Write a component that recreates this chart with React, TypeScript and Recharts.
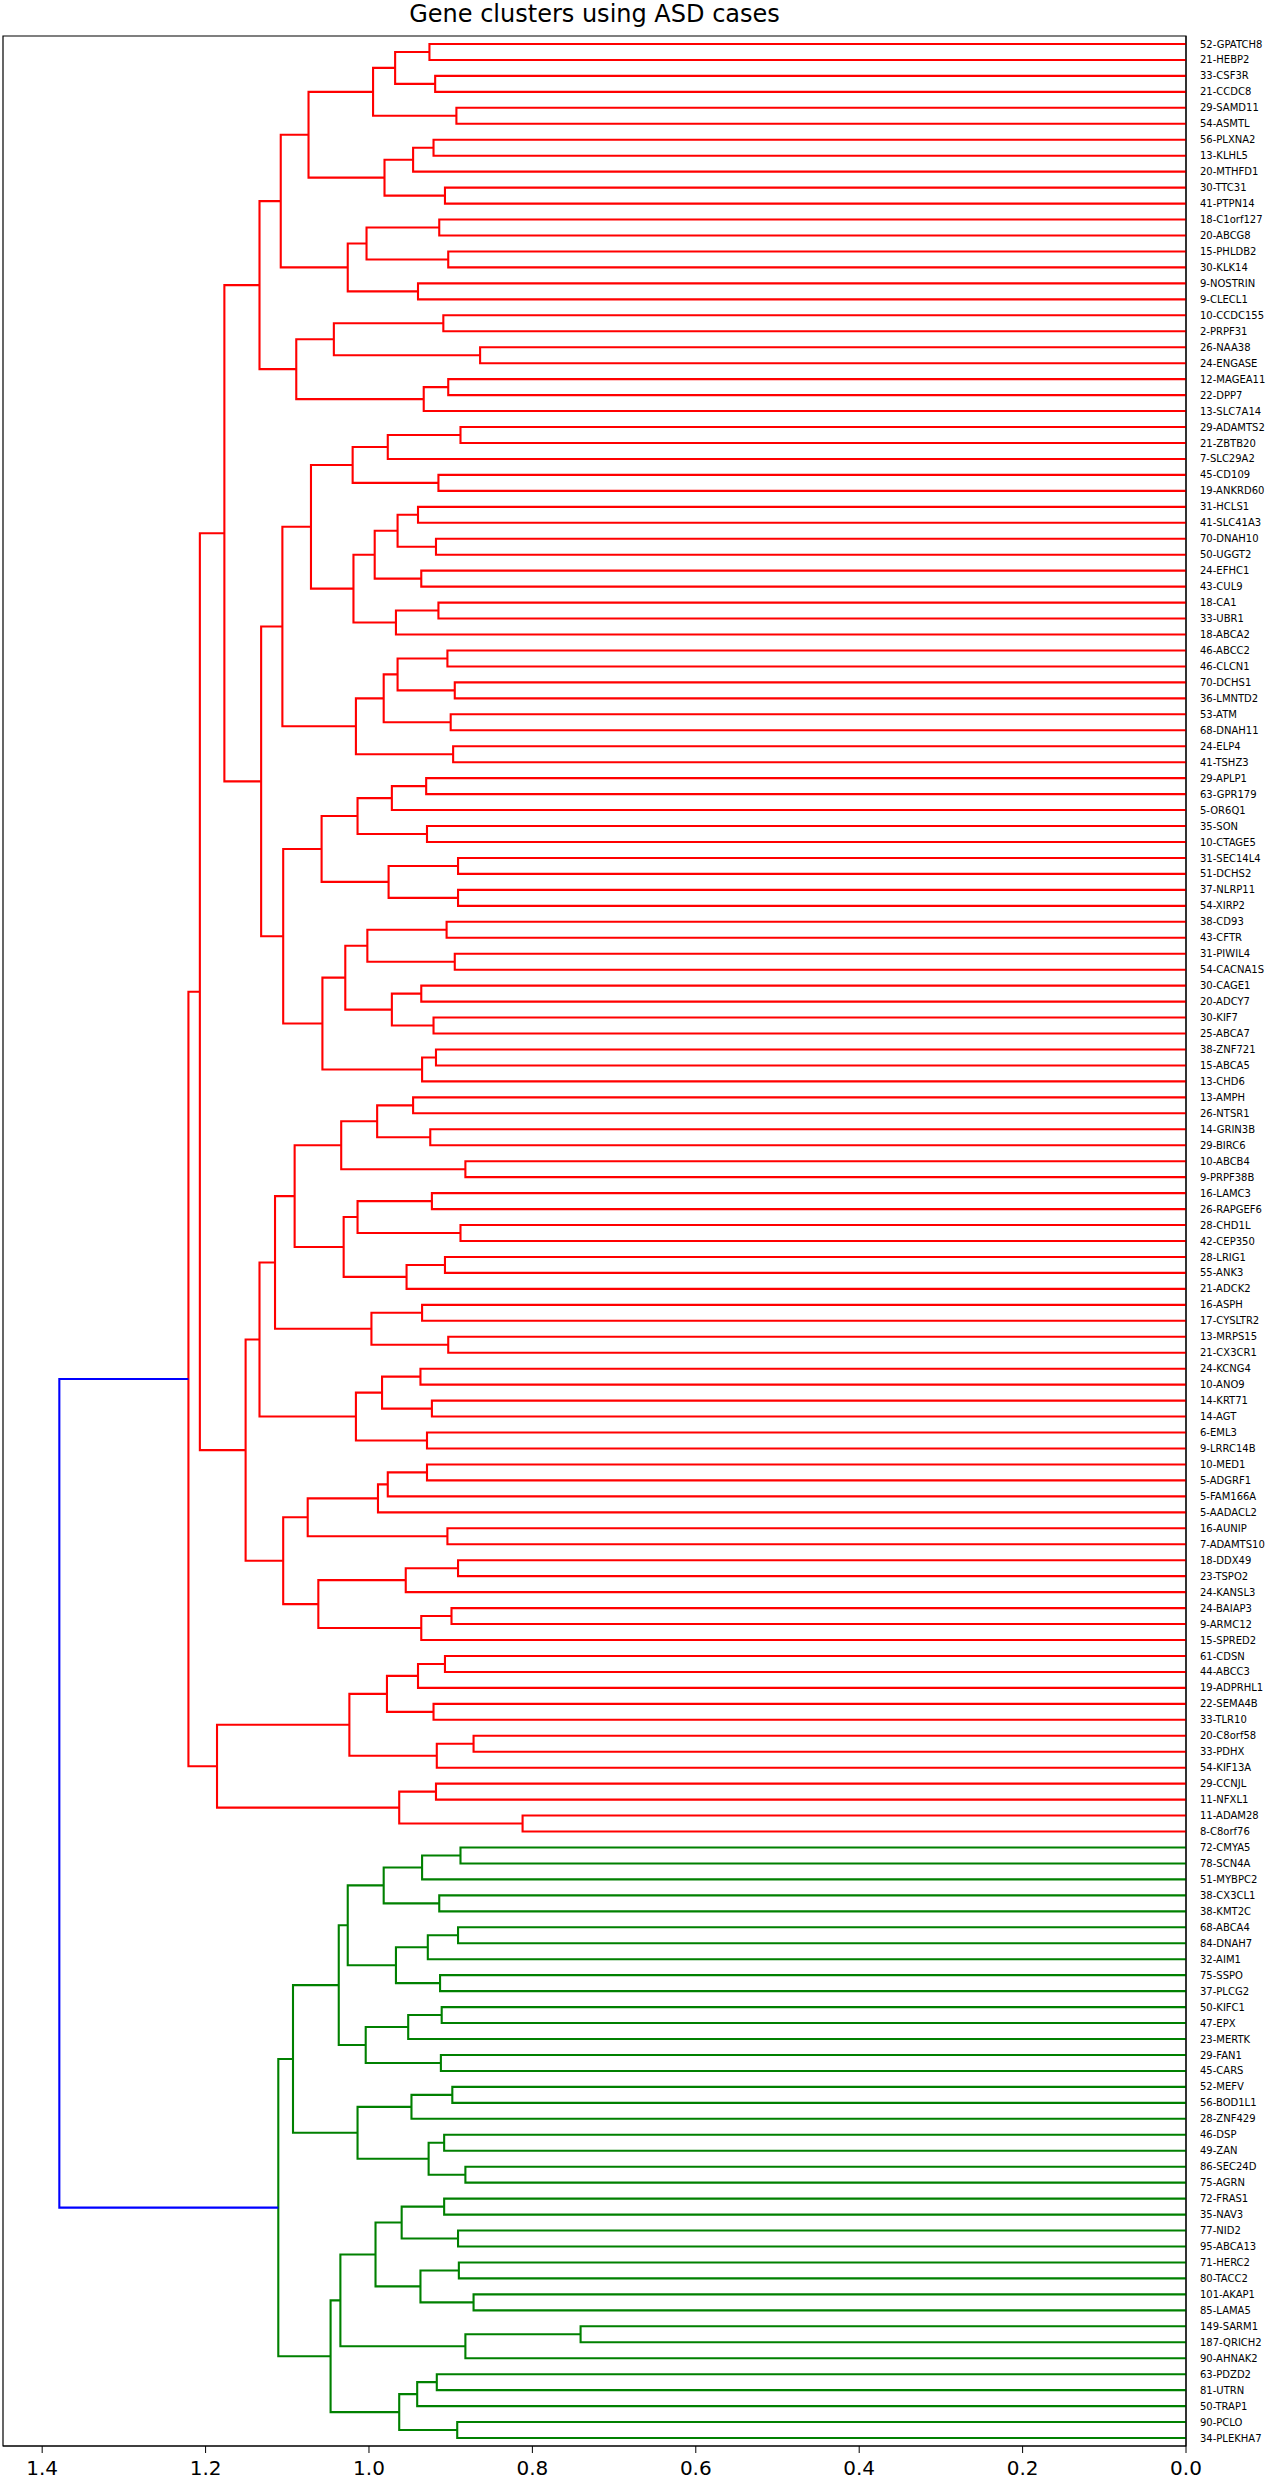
import React from 'react';
import { LineChart, Line, XAxis, YAxis, ReferenceArea } from 'recharts';

// leaf labels, top to bottom as they appear on the right-hand axis
const leafLabels = [
  '52-GPATCH8', '21-HEBP2', '33-CSF3R', '21-CCDC8', '29-SAMD11', '54-ASMTL', '56-PLXNA2', '13-KLHL5',
  '20-MTHFD1', '30-TTC31', '41-PTPN14', '18-C1orf127', '20-ABCG8', '15-PHLDB2', '30-KLK14', '9-NOSTRIN',
  '9-CLECL1', '10-CCDC155', '2-PRPF31', '26-NAA38', '24-ENGASE', '12-MAGEA11', '22-DPP7', '13-SLC7A14',
  '29-ADAMTS2', '21-ZBTB20', '7-SLC29A2', '45-CD109', '19-ANKRD60', '31-HCLS1', '41-SLC41A3', '70-DNAH10',
  '50-UGGT2', '24-EFHC1', '43-CUL9', '18-CA1', '33-UBR1', '18-ABCA2', '46-ABCC2', '46-CLCN1',
  '70-DCHS1', '36-LMNTD2', '53-ATM', '68-DNAH11', '24-ELP4', '41-TSHZ3', '29-APLP1', '63-GPR179',
  '5-OR6Q1', '35-SON', '10-CTAGE5', '31-SEC14L4', '51-DCHS2', '37-NLRP11', '54-XIRP2', '38-CD93',
  '43-CFTR', '31-PIWIL4', '54-CACNA1S', '30-CAGE1', '20-ADCY7', '30-KIF7', '25-ABCA7', '38-ZNF721',
  '15-ABCA5', '13-CHD6', '13-AMPH', '26-NTSR1', '14-GRIN3B', '29-BIRC6', '10-ABCB4', '9-PRPF38B',
  '16-LAMC3', '26-RAPGEF6', '28-CHD1L', '42-CEP350', '28-LRIG1', '55-ANK3', '21-ADCK2', '16-ASPH',
  '17-CYSLTR2', '13-MRPS15', '21-CX3CR1', '24-KCNG4', '10-ANO9', '14-KRT71', '14-AGT', '6-EML3',
  '9-LRRC14B', '10-MED1', '5-ADGRF1', '5-FAM166A', '5-AADACL2', '16-AUNIP', '7-ADAMTS10', '18-DDX49',
  '23-TSPO2', '24-KANSL3', '24-BAIAP3', '9-ARMC12', '15-SPRED2', '61-CDSN', '44-ABCC3', '19-ADPRHL1',
  '22-SEMA4B', '33-TLR10', '20-C8orf58', '33-PDHX', '54-KIF13A', '29-CCNJL', '11-NFXL1', '11-ADAM28',
  '8-C8orf76', '72-CMYA5', '78-SCN4A', '51-MYBPC2', '38-CX3CL1', '38-KMT2C', '68-ABCA4', '84-DNAH7',
  '32-AIM1', '75-SSPO', '37-PLCG2', '50-KIFC1', '47-EPX', '23-MERTK', '29-FAN1', '45-CARS',
  '52-MEFV', '56-BOD1L1', '28-ZNF429', '46-DSP', '49-ZAN', '86-SEC24D', '75-AGRN', '72-FRAS1',
  '35-NAV3', '77-NID2', '95-ABCA13', '71-HERC2', '80-TACC2', '101-AKAP1', '85-LAMA5', '149-SARM1',
  '187-QRICH2', '90-AHNAK2', '63-PDZD2', '81-UTRN', '50-TRAP1', '90-PCLO', '34-PLEKHA7',
];

// linkage: [child a, child b, distance]; ids < 151 are leaves, merge k gets id 151 + k
const merges: [number, number, number][] = [
  [0, 1, 0.926], [2, 3, 0.919], [151, 152, 0.968], [4, 5, 0.893], [153, 154, 0.995],
  [6, 7, 0.921], [156, 8, 0.946], [9, 10, 0.907], [157, 158, 0.981], [155, 159, 1.074],
  [11, 12, 0.914], [13, 14, 0.903], [161, 162, 1.003], [15, 16, 0.94], [163, 164, 1.026],
  [160, 165, 1.108], [17, 18, 0.909], [19, 20, 0.864], [167, 168, 1.043], [21, 22, 0.903],
  [170, 23, 0.933], [169, 171, 1.089], [166, 172, 1.134],
  [24, 25, 0.888], [174, 26, 0.977], [27, 28, 0.915], [175, 176, 1.02], [29, 30, 0.94],
  [31, 32, 0.918], [178, 179, 0.965], [33, 34, 0.936], [180, 181, 0.993], [35, 36, 0.915],
  [183, 37, 0.967], [182, 184, 1.019], [177, 185, 1.071], [38, 39, 0.904], [40, 41, 0.895],
  [187, 188, 0.965], [42, 43, 0.9], [189, 190, 0.982], [44, 45, 0.897], [191, 192, 1.016],
  [186, 193, 1.106], [46, 47, 0.93], [195, 48, 0.972], [49, 50, 0.929], [196, 197, 1.014],
  [51, 52, 0.891], [53, 54, 0.891], [199, 200, 0.976], [198, 201, 1.058], [55, 56, 0.905],
  [57, 58, 0.895], [203, 204, 1.002], [59, 60, 0.936], [61, 62, 0.921], [206, 207, 0.972],
  [205, 208, 1.029], [63, 64, 0.918], [210, 65, 0.935], [209, 211, 1.057], [202, 212, 1.105],
  [194, 213, 1.132],
  [66, 67, 0.946], [68, 69, 0.925], [215, 216, 0.99], [70, 71, 0.882], [217, 218, 1.034],
  [72, 73, 0.923], [74, 75, 0.888], [220, 221, 1.014], [76, 77, 0.907], [223, 78, 0.954],
  [222, 224, 1.031], [219, 225, 1.091], [79, 80, 0.935], [81, 82, 0.903], [227, 228, 0.997],
  [226, 229, 1.115], [83, 84, 0.937], [85, 86, 0.923], [231, 232, 0.984], [87, 88, 0.929],
  [233, 234, 1.016], [230, 235, 1.134],
  [89, 90, 0.929], [237, 91, 0.977], [238, 92, 0.989], [93, 94, 0.904], [239, 240, 1.075],
  [95, 96, 0.891], [242, 97, 0.955], [98, 99, 0.899], [244, 100, 0.936], [243, 245, 1.062],
  [241, 246, 1.105],
  [101, 102, 0.907], [248, 103, 0.94], [104, 105, 0.921], [249, 250, 0.978], [106, 107, 0.872],
  [252, 108, 0.917], [251, 253, 1.024],
  [109, 110, 0.918], [111, 112, 0.812], [255, 256, 0.963],
  [173, 214, 1.177], [236, 247, 1.151], [258, 259, 1.207], [254, 257, 1.186], [260, 261, 1.221],
  [113, 114, 0.888], [263, 115, 0.935], [116, 117, 0.914], [264, 265, 0.982], [118, 119, 0.891],
  [267, 120, 0.928], [121, 122, 0.913], [268, 269, 0.967], [266, 270, 1.026], [123, 124, 0.911],
  [272, 125, 0.952], [126, 127, 0.912], [273, 274, 1.004], [271, 275, 1.037], [128, 129, 0.898],
  [277, 130, 0.948], [131, 132, 0.908], [133, 134, 0.882], [279, 280, 0.927], [278, 281, 1.014],
  [276, 282, 1.093], [135, 136, 0.908], [137, 138, 0.891], [284, 285, 0.96], [139, 140, 0.89],
  [141, 142, 0.872], [287, 288, 0.937], [286, 289, 0.992], [143, 144, 0.741], [291, 145, 0.882],
  [290, 292, 1.035], [146, 147, 0.917], [294, 148, 0.941], [149, 150, 0.892], [295, 296, 0.963],
  [293, 297, 1.047], [283, 298, 1.111],
  [262, 299, 1.379],
];

const xTicks = [0, 0.2, 0.4, 0.6, 0.8, 1.0, 1.2, 1.4];
const colorThreshold = 1.3;
const clusterPalette = ['#008000', '#ff0000']; // handed out from the bottom cluster up
const aboveThresholdColor = '#0000ff';

const n = leafLabels.length;
const pos: number[] = leafLabels.map((_, i) => i * 10 + 5);
const dist: number[] = leafLabels.map(() => 0);
const parent: number[] = leafLabels.map(() => -1);
merges.forEach(([a, b, h], k) => {
  pos.push((pos[a] + pos[b]) / 2);
  dist.push(h);
  parent.push(-1);
  parent[a] = n + k;
  parent[b] = n + k;
});

// colour each merge by the cluster it falls in below the threshold
const nodeColor: string[] = pos.map(() => aboveThresholdColor);
const clusterRoots = pos
  .map((_, id) => id)
  .filter((id) => id >= n && dist[id] < colorThreshold && (parent[id] < 0 || dist[parent[id]] >= colorThreshold))
  .sort((a, b) => pos[b] - pos[a]);
const paint = (id: number, c: string) => {
  nodeColor[id] = c;
  if (id >= n) {
    paint(merges[id - n][0], c);
    paint(merges[id - n][1], c);
  }
};
clusterRoots.forEach((id, i) => paint(id, clusterPalette[i % clusterPalette.length]));

const links = merges.map(([a, b, h], k) => ({
  color: dist[n + k] < colorThreshold ? nodeColor[n + k] : aboveThresholdColor,
  points: [
    { h: dist[a], y: pos[a] },
    { h, y: pos[a] },
    { h, y: pos[b] },
    { h: dist[b], y: pos[b] },
  ],
}));

const xMax = Math.max(...merges.map((m) => m[2])) * 1.05;
const yMax = n * 10;
const font = '"DejaVu Sans", sans-serif';

export default function App() {
  return (
    <div style={{ position: 'absolute', left: 0, top: 0, width: 1271, height: 2481, background: '#fff', fontFamily: font }}>
      <div
        style={{
          position: 'absolute',
          top: 2,
          left: 3,
          width: 1183,
          textAlign: 'center',
          fontSize: 24,
          lineHeight: '24px',
          color: '#000',
        }}
      >
        Gene clusters using ASD cases
      </div>
      <LineChart width={1271} height={2481} margin={{ top: 36, right: 0, bottom: 0, left: 3 }}>
        <XAxis
          dataKey="h"
          type="number"
          domain={[0, xMax]}
          allowDataOverflow
          reversed
          ticks={xTicks}
          tickFormatter={(v: number) => v.toFixed(1)}
          height={35}
          tickSize={7}
          tickMargin={8}
          stroke="#000"
          tick={{ fontSize: 20, fill: '#000', fontFamily: font }}
        />
        <YAxis
          dataKey="y"
          type="number"
          orientation="right"
          domain={[0, yMax]}
          allowDataOverflow
          reversed
          ticks={pos.slice(0, n)}
          interval={0}
          tickFormatter={(v: number) => leafLabels[Math.round((v - 5) / 10)]}
          width={85}
          tickSize={0}
          tickMargin={14}
          tickLine={false}
          stroke="#000"
          tick={{ fontSize: 10, fill: '#000', fontFamily: font }}
        />
        <ReferenceArea x1={xMax} x2={0} y1={0} y2={yMax} fill="none" stroke="#000" strokeWidth={1.2} />
        {links.map((l, i) => (
          <Line
            key={i}
            data={l.points}
            dataKey="y"
            type="linear"
            stroke={l.color}
            strokeWidth={2.1}
            dot={false}
            activeDot={false}
            legendType="none"
            isAnimationActive={false}
          />
        ))}
      </LineChart>
    </div>
  );
}
